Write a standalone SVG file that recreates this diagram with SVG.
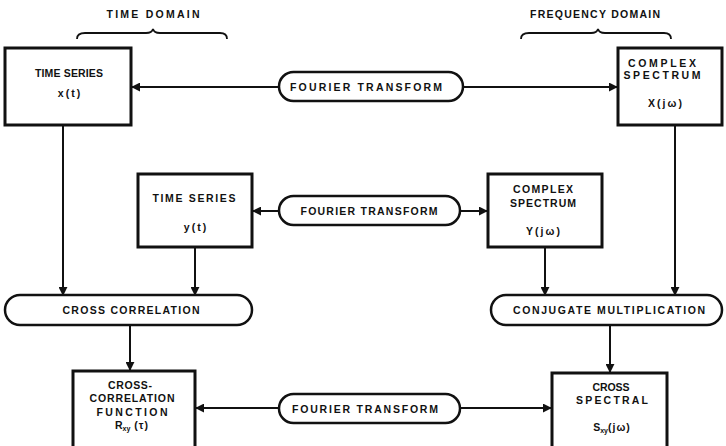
<svg xmlns="http://www.w3.org/2000/svg" width="726" height="446" viewBox="0 0 726 446">
<defs>
<style>
text{font-family:"Liberation Sans",Arial,sans-serif;font-weight:bold;font-size:10.5px;fill:#111;text-anchor:middle}
.f{letter-spacing:2px}
.box{fill:#fff;stroke:#111;stroke-width:3}
.pill{fill:#fff;stroke:#111;stroke-width:2.5}
.ln{fill:none;stroke:#111;stroke-width:2}
.br{fill:none;stroke:#111;stroke-width:1.8}
</style>
<marker id="ah" viewBox="0 0 10 10" refX="9" refY="5" markerWidth="4.5" markerHeight="4.5" orient="auto" markerUnits="strokeWidth">
<path d="M0,0 L10,5 L0,10 z" fill="#111"/>
</marker>
</defs>
<rect width="726" height="446" fill="#fff"/>

<g id="labels">
<text x="153" y="18" textLength="93" lengthAdjust="spacing">TIME DOMAIN</text>
<path class="br" d="M77,39 Q77,33 85,33 L146,33 Q152,33 153,29 Q154,33 160,33 L220,33 Q227,33 227,39"/>
<text x="595" y="18" textLength="130" lengthAdjust="spacing">FREQUENCY DOMAIN</text>
<path class="br" d="M521,39 Q521,33 529,33 L591,33 Q597,33 598,29 Q599,33 605,33 L664,33 Q671,33 671,39"/>
</g>

<g id="connectors">
<line class="ln" x1="279" y1="87" x2="132" y2="87" marker-end="url(#ah)"/>
<line class="ln" x1="463" y1="87" x2="617" y2="87" marker-end="url(#ah)"/>
<line class="ln" x1="279" y1="211" x2="253" y2="211" marker-end="url(#ah)"/>
<line class="ln" x1="460" y1="211" x2="487" y2="211" marker-end="url(#ah)"/>
<line class="ln" x1="279" y1="408" x2="196" y2="408" marker-end="url(#ah)"/>
<line class="ln" x1="460" y1="408" x2="551" y2="408" marker-end="url(#ah)"/>
<line class="ln" x1="63" y1="125" x2="63" y2="295" marker-end="url(#ah)"/>
<line class="ln" x1="195" y1="247" x2="195" y2="295" marker-end="url(#ah)"/>
<line class="ln" x1="545" y1="247" x2="545" y2="295" marker-end="url(#ah)"/>
<line class="ln" x1="675" y1="125" x2="675" y2="295" marker-end="url(#ah)"/>
<line class="ln" x1="130" y1="325" x2="130" y2="370" marker-end="url(#ah)"/>
<line class="ln" x1="610" y1="325" x2="610" y2="372" marker-end="url(#ah)"/>
</g>

<g id="ts-x">
<rect class="box" x="5" y="48" width="126" height="77"/>
<text x="69" y="77" textLength="68" lengthAdjust="spacing">TIME SERIES</text>
<text class="f" x="70" y="97">x(t)</text>
</g>

<g id="ft-1">
<rect class="pill" x="279" y="72" width="184" height="29" rx="14.5"/>
<text x="366" y="91" textLength="152" lengthAdjust="spacing">FOURIER TRANSFORM</text>
</g>

<g id="cs-x">
<rect class="box" x="618" y="48" width="104" height="77"/>
<text x="662" y="67" textLength="68" lengthAdjust="spacing">COMPLEX</text>
<text x="662" y="79" textLength="77" lengthAdjust="spacing">SPECTRUM</text>
<text class="f" x="666" y="107">X(jω)</text>
</g>

<g id="ts-y">
<rect class="box" x="138" y="174" width="114" height="73"/>
<text x="194" y="202" textLength="83" lengthAdjust="spacing">TIME SERIES</text>
<text class="f" x="196" y="231">y(t)</text>
</g>

<g id="ft-2">
<rect class="pill" x="279" y="196" width="181" height="29" rx="14.5"/>
<text x="369" y="215" textLength="137" lengthAdjust="spacing">FOURIER TRANSFORM</text>
</g>

<g id="cs-y">
<rect class="box" x="488" y="174" width="114" height="73"/>
<text x="543" y="193" textLength="60" lengthAdjust="spacing">COMPLEX</text>
<text x="543" y="207" textLength="66" lengthAdjust="spacing">SPECTRUM</text>
<text class="f" x="544" y="235">Y(jω)</text>
</g>

<g id="cross-corr">
<rect class="pill" x="5" y="295" width="247" height="30" rx="15"/>
<text x="131" y="314" textLength="137" lengthAdjust="spacing">CROSS CORRELATION</text>
</g>

<g id="conj-mult">
<rect class="pill" x="491" y="295" width="231" height="30" rx="15"/>
<text x="609" y="314" textLength="192" lengthAdjust="spacing">CONJUGATE MULTIPLICATION</text>
</g>

<g id="ccf">
<rect class="box" x="73" y="371" width="122" height="80"/>
<text x="130" y="389" textLength="44" lengthAdjust="spacing">CROSS-</text>
<text x="132" y="402" textLength="85" lengthAdjust="spacing">CORRELATION</text>
<text x="132" y="416" textLength="71" lengthAdjust="spacing">FUNCTION</text>
<text x="132" y="429">R<tspan font-size="7" dy="2">xy</tspan><tspan dy="-2" letter-spacing="1"> (τ)</tspan></text>
</g>

<g id="ft-3">
<rect class="pill" x="279" y="394" width="181" height="29" rx="14.5"/>
<text x="365" y="413" textLength="146" lengthAdjust="spacing">FOURIER TRANSFORM</text>
</g>

<g id="csd">
<rect class="box" x="552" y="373" width="115" height="80"/>
<text x="611" y="391" textLength="37" lengthAdjust="spacing">CROSS</text>
<text x="612" y="404" textLength="72" lengthAdjust="spacing">SPECTRAL</text>
<text x="612" y="431">S<tspan font-size="7" dy="2">xy</tspan><tspan dy="-2" letter-spacing="1">(jω)</tspan></text>
</g>
</svg>
